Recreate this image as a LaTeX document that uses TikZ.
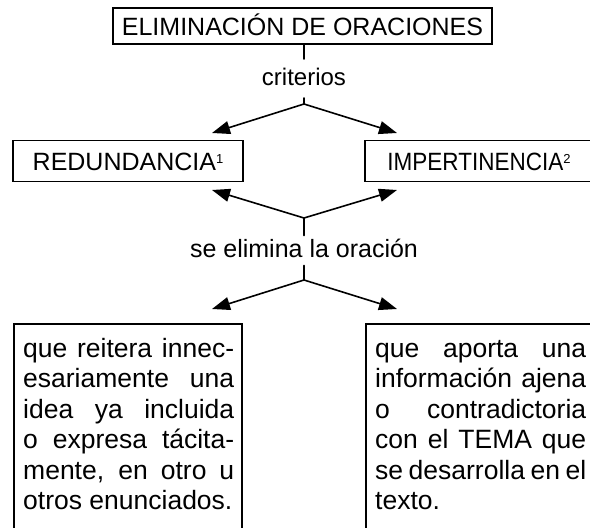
\documentclass[tikz,border=0pt]{standalone}
\usepackage{fontspec}
\usepackage{graphicx}
\setmainfont{Liberation Sans}
\usetikzlibrary{arrows.meta}
\setlength{\parindent}{0pt}
\newcommand{\supnum}[1]{\raisebox{6.5pt}{\fontsize{13}{13}\selectfont #1}}
\begin{document}
\begin{tikzpicture}[x=1pt,y=-1pt,
  box/.style={draw, line width=1.6pt, inner sep=0pt, text height=18pt, text depth=0pt},
  hfont/.style={font=\fontsize{25}{30}\selectfont},
  lbl/.style={anchor=base, inner xsep=2pt, inner ysep=0pt, text height=18pt, text depth=5pt},
  conn/.style={line width=1.6pt, line cap=round},
  arr/.style={conn, -{Triangle[length=18pt,width=13pt]}},
  bodytext/.style={anchor=north west, inner sep=0pt, text width=211pt, align=justify,
    font=\fontsize{26.5}{30.5}\selectfont},
  emptybox/.style={draw, line width=1.6pt, anchor=north west, inner sep=0pt,
    minimum width=228pt, minimum height=230pt}
]
\useasboundingbox (0,0) rectangle (590,528);
\clip (0,0) rectangle (590,528);

% boxes
\node[box, hfont, minimum width=379pt, minimum height=36pt] (top) at (302.5,26) {ELIMINACIÓN DE ORACIONES};
\node[box, hfont, minimum width=230pt, minimum height=41pt] (red) at (128,161) {REDUNDANCIA\supnum{1}};
\node[box, hfont, minimum width=228pt, minimum height=41pt] (imp) at (479,161) {\scalebox{0.9}[1]{IMPERTINENCIA}\supnum{2}};

% labels
\node[lbl, font=\fontsize{24}{28}\selectfont, outer ysep=8pt] (crit) at (304,85) {criterios};
\node[lbl, hfont, outer ysep=3.5pt] (elim) at (304,257) {se elimina la oración};

% bottom boxes
\node[emptybox] (lbox) at (13,323) {};
\node[emptybox] (rbox) at (365,323) {};
\node[bodytext] (ltext) at (23,335.65) {\strut que reitera innec-\linebreak
esariamente una\linebreak idea ya incluida\linebreak o expresa tácita-\linebreak
mente, en otro u\linebreak otros enunciados.};
\node[bodytext] (rtext) at (375,335.65) {\strut que aporta una\linebreak
información ajena\linebreak o contradictoria\linebreak con el TEMA que\linebreak
se desarrolla en el\linebreak texto.};

% junctions and tips
\coordinate (j1) at (304,104);
\coordinate (t1l) at (212,133);
\coordinate (t1r) at (397,133);
\coordinate (j2) at (304,218);
\coordinate (t2l) at (212,190);
\coordinate (t2r) at (397,190);
\coordinate (j3) at (304,280);
\coordinate (t3l) at (212,309);
\coordinate (t3r) at (397,309);

% connectors
\draw[conn] (crit.north |- top.south) -- (crit.north);
\draw[conn] (crit.south) -- (j1);
\draw[arr] (j1) -- (t1l);
\draw[arr] (j1) -- (t1r);
\draw[arr] (j2) -- (t2l);
\draw[arr] (j2) -- (t2r);
\draw[conn] (j2) -- (elim.north);
\draw[conn] (elim.south) -- (j3);
\draw[arr] (j3) -- (t3l);
\draw[arr] (j3) -- (t3r);
\end{tikzpicture}
\end{document}
